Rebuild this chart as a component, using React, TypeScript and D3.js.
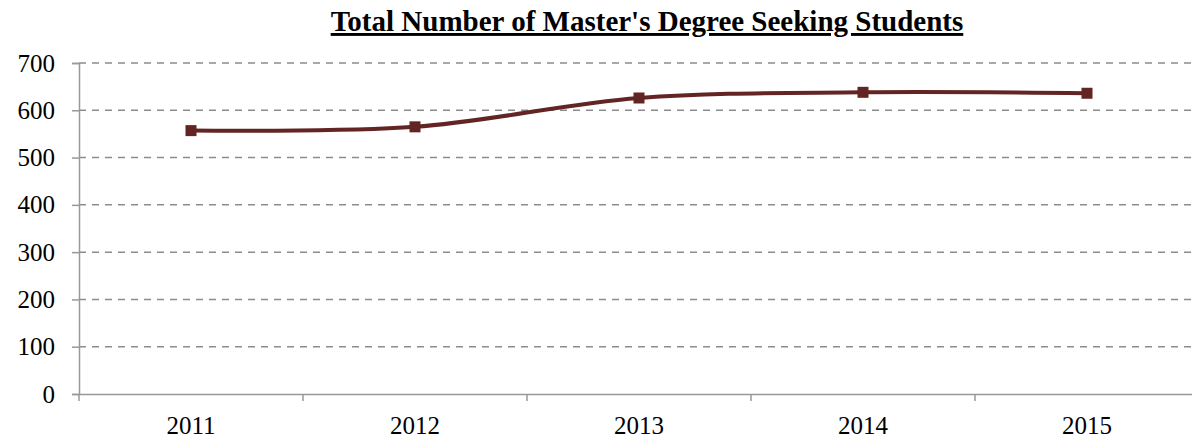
import * as d3 from "d3";
import { useEffect, useRef } from "react";

const years = ["2011", "2012", "2013", "2014", "2015"];
const students = [557, 565, 626, 638, 636];
const yTicks = [0, 100, 200, 300, 400, 500, 600, 700];

const App = () => {
  const ref = useRef<SVGSVGElement>(null);

  useEffect(() => {
    const svg = d3.select(ref.current);
    svg.selectAll("*").remove();
    const width = 1192;
    const height = 438;
    const margin = { top: 63, right: -7, bottom: 44, left: 79 };

    const x = d3
      .scaleBand()
      .domain(years)
      .range([margin.left, width - margin.right]);

    const y = d3
      .scaleLinear()
      .domain([0, 700])
      .range([height - margin.bottom, margin.top]);

    const font = "'Liberation Serif', 'Times New Roman', serif";

    // Title
    svg
      .append("text")
      .attr("x", 647)
      .attr("y", 31)
      .attr("text-anchor", "middle")
      .style("font-family", font)
      .style("font-size", "29px")
      .style("font-weight", "bold")
      .style("text-decoration", "underline")
      .text("Total Number of Master's Degree Seeking Students");

    // Gridlines
    svg
      .append("g")
      .selectAll("line")
      .data(yTicks.filter((d) => d > 0))
      .join("line")
      .attr("x1", margin.left)
      .attr("x2", width)
      .attr("y1", (d) => y(d))
      .attr("y2", (d) => y(d))
      .attr("stroke", "#8c8c8c")
      .attr("stroke-width", 1.5)
      .attr("stroke-dasharray", "7,6");

    // Y Axis
    const yAxis = svg
      .append("g")
      .attr("transform", `translate(${margin.left},0)`)
      .call(d3.axisLeft(y).tickValues(yTicks).tickSize(7).tickPadding(17));
    yAxis.select(".domain").attr("stroke", "#999").attr("stroke-width", 1.5);
    yAxis.selectAll(".tick line").attr("stroke", "#999").attr("stroke-width", 1.5);
    yAxis
      .selectAll("text")
      .attr("fill", "#000")
      .style("font-family", font)
      .style("font-size", "25px");

    // X Axis
    const xAxis = svg
      .append("g")
      .attr("transform", `translate(0,${y(0)})`)
      .call(d3.axisBottom(x).tickSize(0).tickPadding(22));
    xAxis.select(".domain").attr("stroke", "#999").attr("stroke-width", 1.5);
    xAxis
      .selectAll("text")
      .attr("fill", "#000")
      .style("font-family", font)
      .style("font-size", "25px");
    xAxis
      .append("g")
      .selectAll("line")
      .data(years)
      .join("line")
      .attr("x1", (d) => x(d)!)
      .attr("x2", (d) => x(d)!)
      .attr("y1", 0)
      .attr("y2", 7)
      .attr("stroke", "#999")
      .attr("stroke-width", 1.5);

    const cx = (d: string) => x(d)! + x.bandwidth() / 2;

    // Line
    const line = d3
      .line<number>()
      .x((_, i) => cx(years[i]))
      .y((d) => y(d))
      .curve(d3.curveCatmullRom.alpha(0.5));

    svg
      .append("path")
      .datum(students)
      .attr("d", line)
      .attr("fill", "none")
      .attr("stroke", "#632523")
      .attr("stroke-width", 4);

    // Markers
    svg
      .append("g")
      .selectAll("rect")
      .data(students)
      .join("rect")
      .attr("x", (_, i) => cx(years[i]) - 5.5)
      .attr("y", (d) => y(d) - 5.5)
      .attr("width", 11)
      .attr("height", 11)
      .attr("fill", "#632523");
  }, []);

  return (
    <svg
      ref={ref}
      width={1192}
      height={438}
      style={{ position: "absolute", left: 0, top: 0, background: "#fff" }}
    />
  );
};

export default App;
